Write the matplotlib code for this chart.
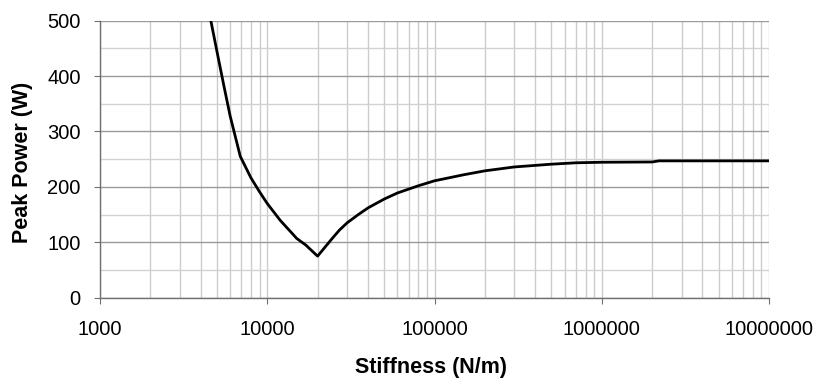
"""Peak power versus stiffness, log-scaled stiffness axis."""

import matplotlib
matplotlib.use("Agg")
import matplotlib.pyplot as plt
from matplotlib.ticker import FixedLocator, LogLocator, NullFormatter

stiffness_n_per_m = [
    4600, 5000, 5500, 6000, 6900, 8000, 9000, 10000, 12000, 14000, 15000,
    17000, 20000, 24000, 27000, 30000, 35000, 40000, 50000, 60000, 80000,
    100000, 150000, 200000, 300000, 500000, 700000, 1000000, 2000000,
    2200000, 5000000, 10000000,
]
peak_power_w = [
    500, 445, 383, 328, 255, 216, 191, 170, 139, 117, 107,
    95, 75, 104, 122, 135, 150, 162, 178, 189, 202,
    211, 222, 229, 236, 241, 243.5, 244.5, 245,
    247, 247, 247,
]

x_tick_values = [1000, 10000, 100000, 1000000, 10000000]
x_tick_labels = ["1000", "10000", "100000", "1000000", "10000000"]
y_tick_values = [0, 100, 200, 300, 400, 500]
y_minor_values = [50, 150, 250, 350, 450]

plt.rcParams["font.family"] = ["Liberation Sans", "DejaVu Sans"]

W, H = 818, 382
fig = plt.figure(figsize=(W / 100, H / 100), dpi=100)
ax = fig.add_axes([100 / W, 1 - 297.7 / H, 669 / W, 277 / H])

ax.set_xscale("log")
ax.set_xlim(1000, 10000000)
ax.set_ylim(0, 500)

ax.set_xticks(x_tick_values)
ax.set_xticklabels(x_tick_labels)
ax.xaxis.set_minor_locator(LogLocator(base=10, subs=range(2, 10)))
ax.xaxis.set_minor_formatter(NullFormatter())
ax.set_yticks(y_tick_values)
ax.yaxis.set_minor_locator(FixedLocator(y_minor_values))

ax.grid(True, which="major", axis="y", color="#9a9a9a", linewidth=1.0)
ax.grid(True, which="minor", axis="y", color="#d2d2d2", linewidth=1.0)
ax.grid(True, which="both", axis="x", color="#cccccc", linewidth=1.0)
ax.set_axisbelow(True)

for side in ("top", "right"):
    ax.spines[side].set_visible(False)
for side in ("left", "bottom"):
    ax.spines[side].set_color("#707070")
    ax.spines[side].set_linewidth(1.0)

ax.tick_params(which="major", direction="out", length=4, color="#707070",
               labelsize=14.5)
ax.tick_params(which="minor", length=0)
ax.tick_params(axis="y", pad=10)
ax.tick_params(axis="x", pad=12)

ax.plot(stiffness_n_per_m, peak_power_w, color="black", linewidth=2.0)

fig.text(431 / W, 1 - 367.5 / H, "Stiffness (N/m)", fontsize=15.5,
         fontweight="bold", ha="center", va="center")
fig.text(23 / W, 1 - 162.5 / H, "Peak Power (W)", fontsize=15.5,
         fontweight="bold", ha="center", va="center", rotation=90)

fig.savefig("out.png", dpi=100)
